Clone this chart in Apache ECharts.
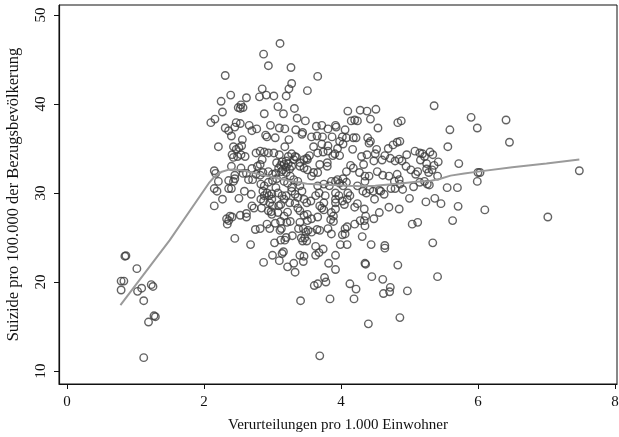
<!DOCTYPE html>
<html>
<head>
<meta charset="utf-8">
<script src="https://cdn.jsdelivr.net/npm/echarts@6/dist/echarts.min.js"></script>
<style>html,body{margin:0;padding:0;background:#fff}#c{width:619px;height:437px}</style>
</head>
<body>
<div id="c"></div>
<script>
// Scatter points: x = Verurteilungen pro 1.000 Einwohner, y = Suizide pro 100.000
const pointsLow = [
[0.845,22.9],[0.86,22.95],[1.02,21.5],[0.79,20.1],[0.83,20.1],[0.79,19.1],[1.03,18.95],[1.09,19.3],
[1.23,19.7],[1.255,19.5],[1.12,17.9],[1.27,16.2],[1.29,16.1],[1.19,15.5],[1.12,11.5]
];
const pointsMain = [
[3.11,46.8],[2.87,45.6],[2.94,44.3],[3.27,44.1],[2.31,43.2],[3.66,43.1],[3.28,42.3],[3.24,41.7],[2.85,41.7],[3.51,41.5],
[2.39,41.0],[2.81,40.8],[2.91,41.0],[3.02,40.9],[3.2,40.9],[2.62,40.7],[2.25,40.3],[2.54,39.9],[2.5,39.6],[2.53,39.5],
[2.57,39.6],[3.08,39.7],[3.32,39.5],[3.16,38.9],[2.27,39.1],[4.10,39.2],[4.28,39.3],[4.38,39.2],[4.51,39.4],[5.36,39.8],
[2.16,38.3],[2.1,37.9],[2.88,38.9],[3.36,38.4],[3.48,38.1],[4.15,38.1],[4.2,38.2],[4.24,38.1],[4.43,38.3],[4.83,37.9],
[4.88,38.1],[5.9,38.5],[6.41,38.2],[5.99,37.3],[5.59,37.1],[4.54,37.3],[3.92,37.6],[3.93,37.4],[3.64,37.5],[3.72,37.6],
[3.81,37.2],[4.06,37.1],[2.31,37.3],[2.36,37.0],[2.47,37.9],[2.53,37.8],[2.45,37.4],[2.66,37.6],[2.7,37.0],[2.77,37.2],
[2.97,37.6],[3.1,37.3],[3.18,37.2],[3.34,37.1],[3.43,36.6],[3.44,36.8],[2.4,36.4],[2.56,36.0],[2.92,36.3],[2.9,36.5],
[3.04,36.2],[3.24,36.0],[3.57,36.3],[3.65,36.4],[3.73,36.3],[3.87,36.3],[3.98,35.8],[4.02,36.3],[4.08,36.2],[4.18,36.2],
[4.22,36.2],[4.39,36.2],[4.41,35.6],[4.43,35.8],[5.56,35.2],[6.46,35.7],[4.82,35.7],[4.76,35.4],[4.86,35.8],[2.21,35.2],
[2.43,35.2],[2.51,35.1],[2.55,35.3],[2.47,34.9],[3.18,35.2],[3.6,35.2],[3.72,35.5],[3.81,35.3],[3.95,35.0],[4.03,35.5],
[4.17,34.9],[4.52,34.9],[4.5,34.4],[4.69,35.0],[5.08,34.7],[5.15,34.5],[5.19,34.4],[5.3,34.6],[5.34,34.3],[4.96,34.3],
[2.41,34.3],[2.43,34.0],[2.49,34.1],[2.6,34.1],[2.54,34.3],[2.76,34.5],[2.82,34.7],[2.88,34.6],[2.94,34.5],[3.02,34.5],
[3.1,34.3],[3.23,34.1],[3.28,34.4],[3.35,34.0],[3.5,33.9],[3.54,34.2],[3.66,34.5],[3.74,34.6],[3.81,34.7],[3.91,34.4],
[3.88,34.2],[3.98,34.2],[4.3,34.1],[4.38,34.3],[4.48,33.6],[4.6,33.7],[4.64,34.2],[4.72,33.9],[4.79,33.6],[4.85,33.8],
[4.89,33.6],[5.16,33.7],[5.22,34.1],[5.42,33.5],[5.72,33.3],[5.33,32.6],[5.28,32.3],[5.25,32.7],[5.12,32.4],[5.02,32.6],
[4.95,33.0],[5.41,31.9],[6.0,32.3],[6.03,32.3],[5.99,31.3],[7.48,32.5],[5.26,31.0],[5.29,30.9],[5.55,30.6],[5.7,30.6],
[5.37,29.4],[5.0,29.4],[5.24,29.0],[5.46,28.8],[5.71,28.5],[6.1,28.1],[7.02,27.3],[5.63,26.9],[5.04,26.5],[5.12,26.7],
[4.85,28.2],[5.34,24.4],[5.41,20.6],[4.83,21.9],[4.97,19.0],[4.86,16.0],[4.45,20.6],[4.61,20.3],[4.62,18.7],[4.71,18.9],
[4.72,19.4],[4.4,15.3],[4.13,19.8],[4.22,19.2],[4.19,18.1],[4.35,22.1],[4.36,22.0],[4.44,24.2],[4.64,24.1],[4.64,23.8],
[4.48,27.1],[4.31,25.1],[3.76,20.5],[3.78,20.0],[3.61,19.6],[3.66,19.8],[3.84,18.1],[3.41,17.9],[3.69,11.7],[3.92,21.4],
[3.82,22.1],[2.87,22.2],[3.0,23.0],[3.1,22.4],[3.16,23.4],[3.14,23.2],[3.22,21.7],[3.33,21.1],[3.31,22.1],[3.45,22.3],
[3.4,23.0],[3.46,22.9],[3.63,23.0],[3.92,23.0],[3.74,23.7],[3.63,24.0],[3.68,23.3],[3.99,24.2],[4.09,24.2],[2.45,24.9],
[2.68,24.2],[3.03,24.4],[3.12,24.7],[3.18,24.7],[3.2,25.0],[3.44,24.6],[3.5,24.6],[3.47,24.95],[3.42,24.95],[3.29,25.2],
[3.11,25.8],[3.13,26.0],[3.52,25.8],[3.57,25.6],[3.65,25.9],[3.69,25.8],[3.38,26.0],[3.4,26.7],[3.86,25.4],[4.02,25.3],
[4.06,25.4],[4.09,26.2],[4.06,26.0],[4.2,26.5],[4.28,26.9],[4.35,26.3],[4.34,26.9],[4.2,28.4],[4.24,28.8],[4.34,28.2],
[4.36,27.4],[2.75,25.9],[2.82,26.0],[2.92,26.5],[2.96,26.0],[3.04,26.6],[3.12,26.8],[3.21,26.7],[3.26,26.8],[2.33,27.1],
[2.36,26.9],[2.34,26.5],[2.41,27.3],[2.38,27.4],[2.53,27.5],[2.62,27.3],[2.62,27.7],[2.7,28.55],[2.73,28.3],[2.15,28.55],
[2.27,29.3],[2.51,29.4],[2.69,29.85],[2.59,30.2],[2.15,30.5],[2.19,30.2],[2.36,30.5],[2.4,30.5],[2.21,31.3],[2.36,31.4],
[2.43,31.3],[2.45,31.6],[2.65,31.5],[2.71,31.5],[2.15,32.5],[2.17,32.2],[2.4,33.0],[2.45,32.0],[2.57,32.2],[2.62,32.2],
[2.54,32.8],[2.76,32.1],[2.82,32.0],[2.86,32.3],[2.7,32.75],[2.78,33.0],[2.82,33.2],[2.85,33.75],[2.94,32.4],[3.0,32.1],
[3.05,32.2],[3.09,32.8],[3.12,33.1],[3.14,33.5],[3.17,33.2],[3.2,32.9],[3.23,33.3],[3.2,33.6],[3.15,32.6],[3.25,32.7],
[3.28,33.0],[3.06,33.4],[3.13,32.4],[2.83,31.0],[2.88,30.8],[2.94,31.2],[3.0,31.4],[3.06,31.6],[2.86,30.2],[2.92,30.0],
[2.99,29.9],[2.95,29.7],[2.99,29.3],[2.96,28.9],[3.0,28.55],[2.98,27.9],[2.99,27.6],[3.09,28.55],[3.12,28.7],[3.14,29.7],
[3.17,29.3],[3.28,30.6],[3.28,30.2],[3.33,29.85],[3.37,29.5],[3.4,30.8],[3.43,30.2],[3.33,28.85],[3.37,28.3],[3.4,28.0],
[3.46,27.5],[3.51,27.6],[3.56,29.1],[3.63,29.7],[3.66,30.8],[3.75,31.0],[3.83,30.8],[3.69,28.55],[3.72,28.3],[3.75,28.1],
[3.86,27.8],[3.89,27.4],[3.92,28.2],[3.92,29.3],[3.92,28.9],[3.85,27.0],[3.89,26.8],[3.66,27.3],[3.92,30.0],[3.98,31.1],
[4.03,30.8],[4.08,31.2],[4.1,30.0],[4.13,29.7],[4.09,29.3],[4.05,28.7],[4.24,30.8],[4.35,31.3],[4.32,30.2],[4.37,30.0],
[4.42,30.4],[4.47,30.2],[4.49,29.3],[4.56,30.3],[4.58,30.2],[4.63,29.85],[4.73,30.5],[4.79,30.5],[4.86,31.0],[4.78,31.3],
[4.82,32.1],[4.7,31.9],[4.61,32.0],[4.53,32.4],[4.41,31.9],[4.35,31.9],[4.27,32.3],[4.18,32.8],[4.14,33.1],[4.33,33.2],
[4.08,32.4],[4.03,31.6],[3.95,31.5],[3.92,31.3],[3.86,31.3],[3.8,33.0],[3.8,33.4],[3.69,33.2],[3.66,32.3],[3.57,31.9],
[3.6,32.3],[3.51,32.6],[3.46,32.8],[3.4,33.0],[3.4,33.4],[3.46,33.75],[3.51,33.75],[3.31,33.75],[3.33,34.1],[3.2,32.3],
[3.26,31.9],[3.31,31.5],[3.37,31.3],[3.17,31.3],[3.22,31.1],[3.05,30.6],[3.08,30.0],[3.2,29.7],[3.25,28.9],[3.46,29.3],
[3.5,28.9],[3.75,28.9],[3.77,29.7],[3.68,30.0],[4.56,27.8],[4.7,28.4],[4.85,31.5],[5.09,32.1],[5.15,31.2],[5.22,31.3],
[4.9,30.4],[5.06,30.7],[5.25,33.3],[5.36,33.1],[3.97,29.7],[4.02,29.1],[3.22,27.85],[3.17,27.4],[3.08,27.8],[3.51,26.9],
[3.57,27.1],[3.45,26.0],[3.81,26.0],[3.49,25.6],[2.94,28.0],[2.84,28.3],[2.83,29.3],[2.87,29.1],[2.88,29.7]
];
// Smoothed (lowess) curve
const smoothX = [0.78,1.5,2.07,2.15,2.25,2.35,2.45,2.55,2.7,2.9,3.1,3.3,3.5,3.7,3.9,4.1,4.3,4.5,4.7,4.9,5.1,5.3,5.45,5.6,5.8,6.0,6.5,7.0,7.48];
const smoothY = [17.4,24.7,31.1,31.8,32.35,32.6,32.65,32.55,32.3,31.95,31.6,31.3,31.05,30.95,30.9,30.8,30.75,30.8,30.95,31.1,31.25,31.35,31.6,31.95,32.2,32.4,32.9,33.3,33.75];

const xTicks = [0,2,4,6,8];
const yTicks = [10,20,30,40,50];

const chart = echarts.init(document.getElementById('c'), null, {renderer:'canvas'});
const font = 'Liberation Serif';
const scatterData = pointsLow.concat(pointsMain);
const lineData = smoothX.map((x,i)=>[x, smoothY[i]]);

chart.setOption({
  animation:false,
  backgroundColor:'#fff',
  grid:{left:59,right:2,top:5,bottom:53,show:true,borderColor:'#111',borderWidth:1,backgroundColor:'transparent',
        containLabel:false,outerBoundsMode:'none'},
  xAxis:{
    type:'value', min:-0.117, max:8.03,
    name:'Verurteilungen pro 1.000 Einwohner', nameLocation:'middle', nameGap:34,
    nameTextStyle:{fontFamily:font,fontSize:15,color:'#111'},
    axisLine:{show:true,onZero:false,lineStyle:{color:'#111',width:1.2}},
    axisTick:{show:true,length:5,customValues:xTicks,lineStyle:{color:'#111'}},
    axisLabel:{customValues:xTicks,fontFamily:font,fontSize:15,color:'#111',margin:11},
    splitLine:{show:false}
  },
  yAxis:{
    type:'value', min:8.54, max:51.12,
    name:'Suizide pro 100.000 der Bezugsbevölkerung', nameLocation:'middle', nameGap:37, nameRotate:90,
    nameTextStyle:{fontFamily:font,fontSize:16.5,color:'#111'},
    axisLine:{show:true,onZero:false,lineStyle:{color:'#111',width:1.2}},
    axisTick:{show:true,length:5,customValues:yTicks,lineStyle:{color:'#111'}},
    axisLabel:{customValues:yTicks,rotate:90,fontFamily:font,fontSize:15,color:'#111',margin:10},
    splitLine:{show:false}
  },
  series:[
    {type:'scatter',data:scatterData,symbol:'circle',symbolSize:7.5,
     itemStyle:{color:'rgba(0,0,0,0)',borderColor:'#3c3c3c',borderWidth:1.4},z:2},
    {type:'line',data:lineData,smooth:false,showSymbol:false,symbol:'none',
     lineStyle:{color:'#9a9a9a',width:2},z:3}
  ]
});
</script>
</body>
</html>
